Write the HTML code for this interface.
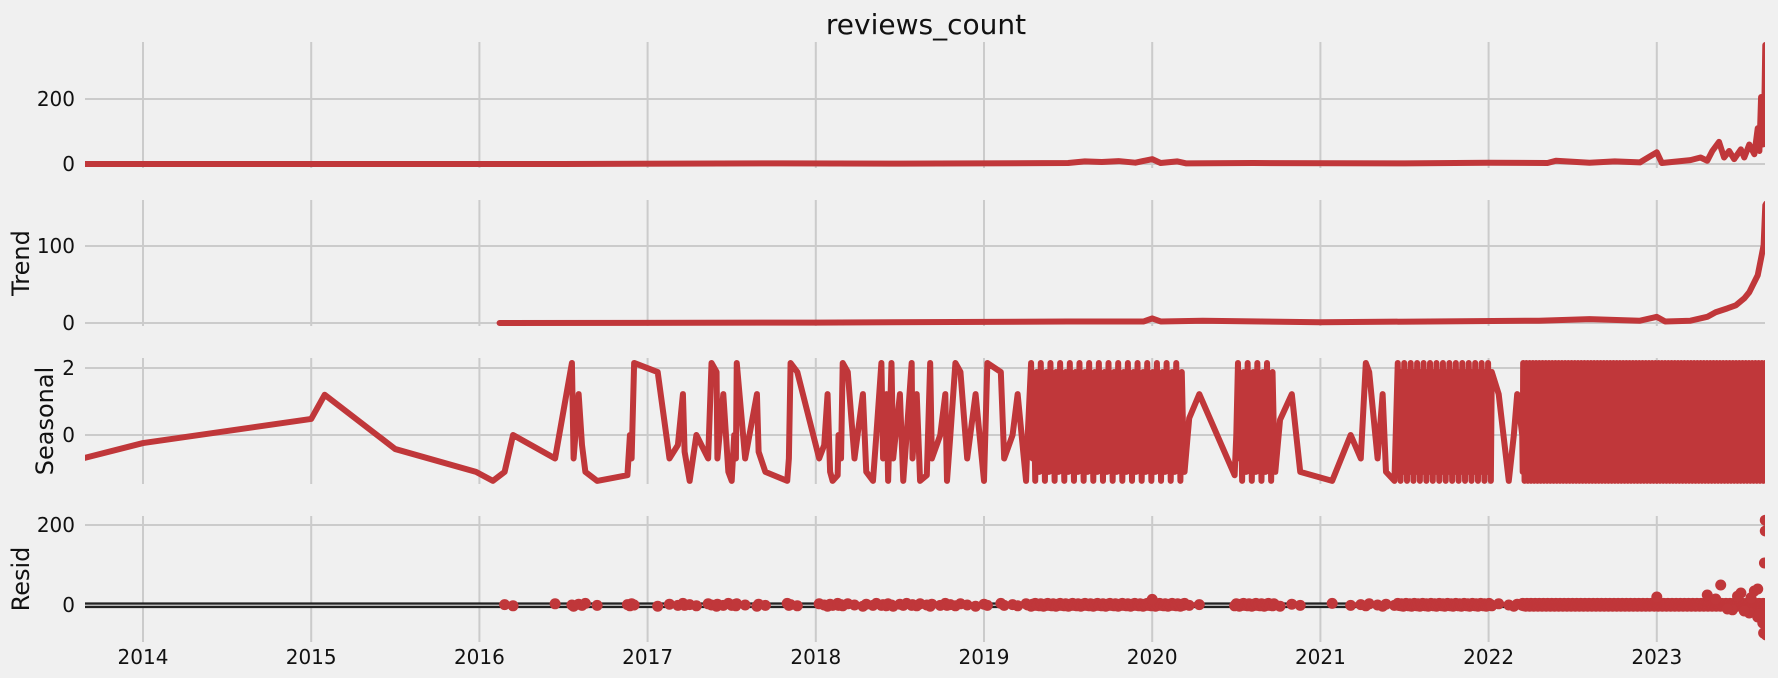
<!DOCTYPE html>
<html><head><meta charset="utf-8"><style>
html,body{margin:0;padding:0;background:#f0f0f0;}
svg{display:block;font-family:"DejaVu Sans","Liberation Sans",sans-serif;}
</style></head><body>
<svg id="chart" width="1778" height="678" viewBox="0 0 1778 678" xmlns="http://www.w3.org/2000/svg">
<rect width="1778" height="678" fill="#f0f0f0"/>
<text x="926" y="34" font-size="28" text-anchor="middle" fill="#111">reviews_count</text>
<g id="layer"></g>
</svg>
<script>
const xYears=[2014,2015,2016,2017,2018,2019,2020,2021,2022,2023];
const obsDates=[2013.64,2016.5,2017.8,2018.5,2019.5,2019.6,2019.7,2019.8,2019.9,2020.0,2020.05,2020.15,2020.2,2020.6,2021.5,2022.0,2022.35,2022.4,2022.6,2022.75,2022.9,2023.0,2023.03,2023.2,2023.26,2023.3,2023.33,2023.37,2023.4,2023.43,2023.46,2023.5,2023.52,2023.55,2023.58,2023.6,2023.61,2023.62,2023.63,2023.64,2023.645,2023.65];
const obsVals=[0,0,2,1,3,8,6,9,4,15,3,8,2,3,2,4,3,10,4,8,5,36,3,12,20,10,40,68,20,40,15,45,20,60,30,110,40,206,60,200,366,60];
const trendDates=[2016.12,2018,2019.5,2019.95,2020.0,2020.05,2020.3,2021,2022.3,2022.6,2022.9,2023.0,2023.05,2023.2,2023.3,2023.35,2023.42,2023.47,2023.52,2023.55,2023.6,2023.62,2023.635,2023.645,2023.65];
const trendVals=[0,0.5,2,2,6,2,3,1,3,5,3,8,2,3,8,14,19,23,32,40,62,84,101,153,155];
const weeklyPattern=[2.15,-0.7,1.22,-1.37,1.88,0,-1.1];
const sparseSeasonDates=[2013.64,2014,2015,2015.08,2015.5,2015.98,2016.08,2016.15,2016.2,2016.45,2016.55,2016.56,2016.59,2016.61,2016.63,2016.7,2016.88,2016.895,2016.905,2016.92,2017.06,2017.13,2017.18,2017.21,2017.22,2017.25,2017.29,2017.36,2017.38,2017.41,2017.415,2017.45,2017.48,2017.5,2017.515,2017.525,2017.53,2017.58,2017.65,2017.66,2017.7,2017.83,2017.84,2017.85,2017.89,2018.02,2018.05,2018.07,2018.085,2018.1,2018.13,2018.135,2018.15,2018.16,2018.19,2018.23,2018.28,2018.3,2018.34,2018.36,2018.39,2018.4,2018.42,2018.43,2018.45,2018.46,2018.5,2018.52,2018.54,2018.57,2018.575,2018.6,2018.62,2018.66,2018.68,2018.69,2018.74,2018.77,2018.78,2018.8,2018.83,2018.86,2018.9,2018.95,2019.0,2019.02,2019.1,2019.12,2019.17,2019.2,2019.25,2019.26,2020.22,2020.28,2020.49,2020.5,2020.76,2020.83,2020.88,2021.07,2021.18,2021.24,2021.27,2021.29,2021.34,2021.37,2021.39,2021.44,2022.06,2022.12,2022.15,2022.17];
const sparseSeasonVals=[-0.7,-0.24,0.48,1.2,-0.42,-1.1,-1.37,-1.1,0,-0.7,2.15,-0.7,1.22,-0.3,-1.1,-1.37,-1.2,0,-0.7,2.15,1.88,-0.7,-0.3,1.22,-0.5,-1.37,0,-0.7,2.15,1.88,-0.7,1.22,-1.1,-1.37,0,-0.7,2.15,-0.7,1.22,-0.5,-1.1,-1.37,-0.7,2.15,1.88,-0.7,-0.3,1.22,-1.1,-1.37,-1.2,0,-0.7,2.15,1.88,-0.7,1.22,-1.1,-1.37,0,2.15,-0.7,1.22,-1.37,2.15,-0.7,1.22,-1.37,0,2.15,-0.7,1.22,-1.37,-1.2,2.15,-0.7,0,1.22,-1.37,0,2.15,1.88,-0.7,1.22,-1.37,2.15,1.88,-0.7,0,1.22,-1.37,0,0.5,1.22,-1.2,0,0.45,1.22,-1.1,-1.37,0,-0.7,2.15,1.88,-0.7,1.22,-1.1,-1.37,1.22,-1.37,0,1.22];
const denseStarts=[2019.28,2020.51,2021.46,2022.2];
const denseEnds=[2020.2,2020.74,2022.02,2023.65];
const denseStepDays=[3,3,2,1];
const residPattern=[1,-2,3,0,-3,2,-1,4,-1];
const outlierDates=[2020.0,2023.0,2023.3,2023.38,2023.45,2023.5,2023.55,2023.58,2023.6,2023.62,2023.635,2023.64,2023.645,2023.645,2023.65,2023.63,2023.6,2023.52,2023.48,2023.35,2023.42,2023.56,2023.61];
const outlierVals=[14,20,25,50,-12,30,-20,35,-30,-25,-70,105,212,185,-75,-45,40,-15,22,15,-10,18,-22];

const NS="http://www.w3.org/2000/svg";
const layer=document.getElementById('layer');
const RED="#c0373a", GRID="#cbcbcb";
const X0=85, X1=1765;
function x(t){return 143+(t-2014)*168.2;}
const panels=[
 {top:42,bot:168,zero:164,k:0.325,ticks:[0,200],label:null},
 {top:200,bot:326,zero:323,k:0.77,ticks:[0,100],label:"Trend",lx:21},
 {top:358,bot:484,zero:435,k:33.5,ticks:[0,2],label:"Seasonal",lx:45},
 {top:516,bot:642,zero:605,k:0.4,ticks:[0,200],label:"Resid",lx:21}
];
function yv(p,v){return p.zero-v*p.k;}
function mk(tag,attrs){const e=document.createElementNS(NS,tag);for(const a in attrs)e.setAttribute(a,attrs[a]);return e;}
const defs=mk('defs',{});layer.appendChild(defs);
panels.forEach((p,i)=>{
 const cp=mk('clipPath',{id:'clip'+i});
 cp.appendChild(mk('rect',{x:X0,y:p.top-8,width:X1-X0,height:p.bot-p.top+16}));
 defs.appendChild(cp);
 xYears.forEach(yr=>{
  const l=mk('line',{x1:x(yr),x2:x(yr),y1:p.top,y2:p.bot,stroke:GRID,'stroke-width':2});
  
  
  layer.appendChild(l);
 });
 p.ticks.forEach(v=>{
  const l=mk('line',{x1:X0,x2:X1,y1:yv(p,v),y2:yv(p,v),stroke:GRID,'stroke-width':2});
  
  
  layer.appendChild(l);
  const t=mk('text',{x:75,y:yv(p,v)+7,'font-size':20,'text-anchor':'end',fill:'#111'});
  t.textContent=String(v);
  
  
  layer.appendChild(t);
 });
 if(p.label){
  const cy=(p.top+p.bot)/2;
  const t=mk('text',{x:p.lx,y:cy,'font-size':24,'text-anchor':'middle',fill:'#111',transform:`rotate(-90 ${p.lx} ${cy})`,dy:8});
  t.textContent=p.label;
  
  
  layer.appendChild(t);
 }
});
xYears.forEach(yr=>{
 const t=mk('text',{x:x(yr),y:664,'font-size':20,'text-anchor':'middle',fill:'#111'});
 t.textContent=String(yr);
 
 
 layer.appendChild(t);
});
function poly(pi,ds,vs,name){
 const p=panels[pi];
 const pts=ds.map((d,i)=>x(d).toFixed(2)+','+yv(p,vs[i]).toFixed(2)).join(' ');
 const e=mk('polyline',{points:pts,fill:'none',stroke:RED,'stroke-width':6,'stroke-linejoin':'round','stroke-linecap':'round','clip-path':`url(#clip${pi})`});
 
 
 layer.appendChild(e);
}
let seas=sparseSeasonDates.map((d,i)=>[d,sparseSeasonVals[i]]);
let k=0;
denseStarts.forEach((s,r)=>{
 for(let t=s;t<=denseEnds[r]+1e-9;t+=denseStepDays[r]/365){seas.push([t,weeklyPattern[k%weeklyPattern.length]]);k++;}
});
seas.sort((a,b)=>a[0]-b[0]);
poly(0,obsDates,obsVals,'observed-line');
poly(1,trendDates,trendVals,'trend-line');
poly(2,seas.map(s=>s[0]),seas.map(s=>s[1]),'seasonal-line');
const p4=panels[3];
[603.5,607].forEach(yy=>{
 const l=mk('line',{x1:X0,x2:X1,y1:yy,y2:yy,stroke:'#222','stroke-width':2.2});
 
 
 layer.appendChild(l);
});
const rg=mk('g',{fill:RED,'clip-path':'url(#clip3)'});


layer.appendChild(rg);
let j=0;
seas.forEach(s=>{
 if(s[0]<2016.12)return;
 const c=mk('circle',{cx:x(s[0]),cy:yv(p4,residPattern[j%residPattern.length]),r:5.5});
 
 
 rg.appendChild(c);j++;
});
outlierDates.forEach((d,i)=>{
 const c=mk('circle',{cx:x(d),cy:yv(p4,outlierVals[i]),r:5.5});
 
 
 rg.appendChild(c);
});
</script>
</body></html>
